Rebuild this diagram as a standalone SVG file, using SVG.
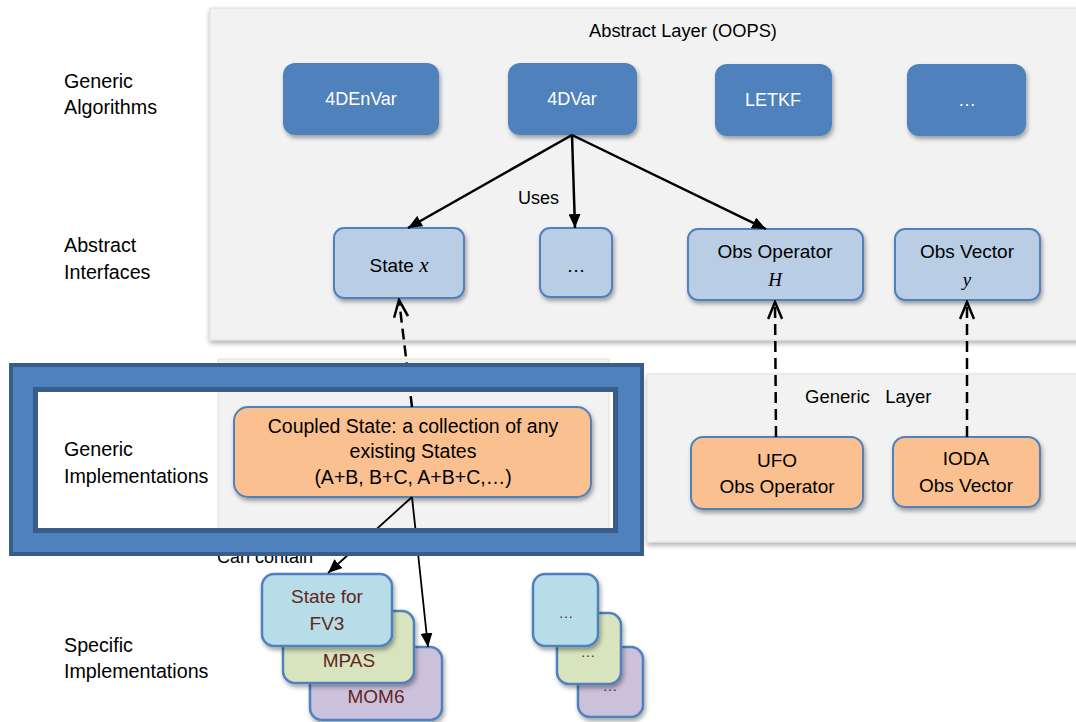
<svg xmlns="http://www.w3.org/2000/svg" width="1076" height="722" viewBox="0 0 1076 722">
  <defs>
    <filter id="shadow" x="-10%" y="-10%" width="130%" height="140%">
      <feDropShadow dx="1.5" dy="3" stdDeviation="2" flood-color="#000" flood-opacity="0.35"/>
    </filter>
    <filter id="panelShadow" x="-5%" y="-5%" width="110%" height="115%">
      <feDropShadow dx="0" dy="3" stdDeviation="2.5" flood-color="#000" flood-opacity="0.3"/>
    </filter>
    <marker id="solidHead" viewBox="0 0 14 12" refX="14" refY="6" markerWidth="14" markerHeight="12" markerUnits="userSpaceOnUse" orient="auto">
      <path d="M0,0 L14,6 L0,12 Z" fill="#000"/>
    </marker>
    <marker id="openHead" viewBox="0 0 20 16" refX="18" refY="8" markerWidth="20" markerHeight="16" markerUnits="userSpaceOnUse" orient="auto">
      <path d="M1,1 L18,8 L1,15" fill="none" stroke="#000" stroke-width="2.5"/>
    </marker>
    <style>
      text { font-family: "Liberation Sans", Arial, sans-serif; fill: #000; }
      .side { font-size: 19.7px; }
      .panel { fill: #f2f2f2; stroke: #e2e0d6; stroke-width: 1; }
      .algo rect { fill: #4f81bd; filter: url(#shadow); }
      .algo text { fill: #fff; font-size: 18px; text-anchor: middle; }
      .iface rect { fill: #b9cde5; stroke: #4f81bd; stroke-width: 2; filter: url(#shadow); }
      .iface text, .impl text { font-size: 19px; text-anchor: middle; }
      .impl .wide { font-size: 19.5px; }
      .impl rect { fill: #fac090; stroke: #4f81bd; stroke-width: 2; filter: url(#shadow); }
      .spec rect { stroke: #4f81bd; stroke-width: 2.5; filter: url(#shadow); }
      .spec text { fill: #632523; font-size: 19px; text-anchor: middle; }
      .spec .dots { font-size: 15px; }
      .fv3 { fill: #b7dde8; }
      .mpas { fill: #d7e4bd; }
      .mom6 { fill: #ccc1da; }
      .math { font-family: "Liberation Serif", "Times New Roman", serif; font-style: italic; font-size: 21px; }
      .uses { stroke: #000; stroke-width: 2.5; fill: none; marker-end: url(#solidHead); }
      .contains { stroke: #000; stroke-width: 1.8; fill: none; marker-end: url(#solidHead); }
      .realizes { stroke: #000; stroke-width: 2.5; fill: none; stroke-dasharray: 11 6; marker-end: url(#openHead); }
      .label { font-size: 18px; }
    </style>
  </defs>

  <rect width="1076" height="722" fill="#fff"/>

  <!-- layer panels -->
  <rect class="panel" x="210" y="8" width="880" height="332" filter="url(#panelShadow)"/>
  <rect class="panel" x="218" y="359" width="391" height="190"/>
  <rect class="panel" x="647" y="374" width="440" height="168" filter="url(#panelShadow)"/>

  <text x="683" y="37" font-size="18.3" text-anchor="middle">Abstract Layer (OOPS)</text>
  <text x="805" y="403" font-size="18.5" xml:space="preserve">Generic   Layer</text>

  <!-- row labels -->
  <text class="side" x="64" y="88">Generic</text>
  <text class="side" x="64" y="114">Algorithms</text>
  <text class="side" x="64" y="252">Abstract</text>
  <text class="side" x="64" y="279">Interfaces</text>
  <text class="side" x="64" y="456">Generic</text>
  <text class="side" x="64" y="483">Implementations</text>
  <text class="side" x="64" y="652">Specific</text>
  <text class="side" x="64" y="678">Implementations</text>

  <!-- generic algorithms -->
  <g id="algo-4denvar" class="algo">
    <rect x="283" y="63" width="156" height="72" rx="12"/>
    <text x="361" y="105">4DEnVar</text>
  </g>
  <g id="algo-4dvar" class="algo">
    <rect x="508" y="63" width="129" height="72" rx="12"/>
    <text x="572" y="105">4DVar</text>
  </g>
  <g id="algo-letkf" class="algo">
    <rect x="715" y="64" width="117" height="72" rx="12"/>
    <text x="773" y="106">LETKF</text>
  </g>
  <g id="algo-more" class="algo">
    <rect x="907" y="64" width="119" height="72" rx="12"/>
    <text x="967" y="106">…</text>
  </g>

  <!-- abstract interfaces -->
  <g id="iface-state" class="iface">
    <rect x="334" y="228" width="130" height="70" rx="10"/>
    <text x="399" y="272">State <tspan class="math">x</tspan></text>
  </g>
  <g id="iface-more" class="iface">
    <rect x="540" y="228" width="72" height="69" rx="10"/>
    <text x="576" y="272" font-size="15">…</text>
  </g>
  <g id="iface-obsop" class="iface">
    <rect x="688" y="229" width="175" height="71" rx="10"/>
    <text x="775" y="258">Obs Operator</text>
    <text x="775" y="286" class="math">H</text>
  </g>
  <g id="iface-obsvec" class="iface">
    <rect x="895" y="229" width="145" height="71" rx="10"/>
    <text x="967" y="258">Obs Vector</text>
    <text x="967" y="286" class="math">y</text>
  </g>

  <!-- generic implementations -->
  <g id="impl-coupled" class="impl">
    <rect x="234" y="407" width="357" height="90" rx="14"/>
    <text class="wide" x="413" y="433">Coupled State: a collection of any</text>
    <text class="wide" x="413" y="458">existing States</text>
    <text class="wide" x="413" y="484">(A+B, B+C, A+B+C,…)</text>
  </g>
  <g id="impl-ufo" class="impl">
    <rect x="691" y="437" width="172" height="72" rx="12"/>
    <text x="777" y="467">UFO</text>
    <text x="777" y="493">Obs Operator</text>
  </g>
  <g id="impl-ioda" class="impl">
    <rect x="893" y="437" width="147" height="70" rx="12"/>
    <text x="966" y="465">IODA</text>
    <text x="966" y="492">Obs Vector</text>
  </g>

  <!-- specific implementations -->
  <g id="spec-mom6" class="spec">
    <rect class="mom6" x="310" y="647" width="132" height="73" rx="12"/>
    <text x="376" y="703">MOM6</text>
  </g>
  <g id="spec-mpas" class="spec">
    <rect class="mpas" x="283" y="611" width="131" height="72" rx="12"/>
    <text x="349" y="667">MPAS</text>
  </g>
  <g id="spec-fv3" class="spec">
    <rect class="fv3" x="262" y="574" width="130" height="72" rx="12"/>
    <text x="327" y="603">State for</text>
    <text x="327" y="630">FV3</text>
  </g>
  <g id="spec-other-3" class="spec">
    <rect class="mom6" x="578" y="647" width="65" height="70" rx="12"/>
    <text class="dots" x="610" y="691">…</text>
  </g>
  <g id="spec-other-2" class="spec">
    <rect class="mpas" x="557" y="613" width="64" height="71" rx="12"/>
    <text class="dots" x="588" y="657">…</text>
  </g>
  <g id="spec-other-1" class="spec">
    <rect class="fv3" x="533" y="574" width="65" height="72" rx="12"/>
    <text class="dots" x="566" y="618">…</text>
  </g>

  <!-- connectors -->
  <g id="connectors">
    <line class="uses" x1="572" y1="135" x2="408" y2="228"/>
    <line class="uses" x1="572" y1="135" x2="575" y2="228"/>
    <line class="uses" x1="572" y1="135" x2="766" y2="229"/>
    <text class="label" x="518" y="204">Uses</text>
    <line class="realizes" x1="412" y1="407" x2="399" y2="300"/>
    <line class="realizes" x1="776" y1="437" x2="775" y2="302"/>
    <line class="realizes" x1="967" y1="437" x2="967" y2="302"/>
    <line class="contains" x1="412" y1="497" x2="328" y2="573"/>
    <line class="contains" x1="412" y1="497" x2="428" y2="647"/>
    <text class="label" x="217" y="563" font-size="19.5">Can contain</text>
  </g>

  <!-- highlight frame around the generic implementation row -->
  <g id="highlight-frame">
    <path d="M9,363 H644 V556 H9 Z M38,392 V528 H613 V392 Z" fill="#4f81bd" fill-rule="evenodd"/>
    <rect x="11" y="365" width="631" height="189" fill="none" stroke="#385d8a" stroke-width="4"/>
    <rect x="35.5" y="389.5" width="580" height="141" fill="none" stroke="#385d8a" stroke-width="5"/>
  </g>
</svg>
